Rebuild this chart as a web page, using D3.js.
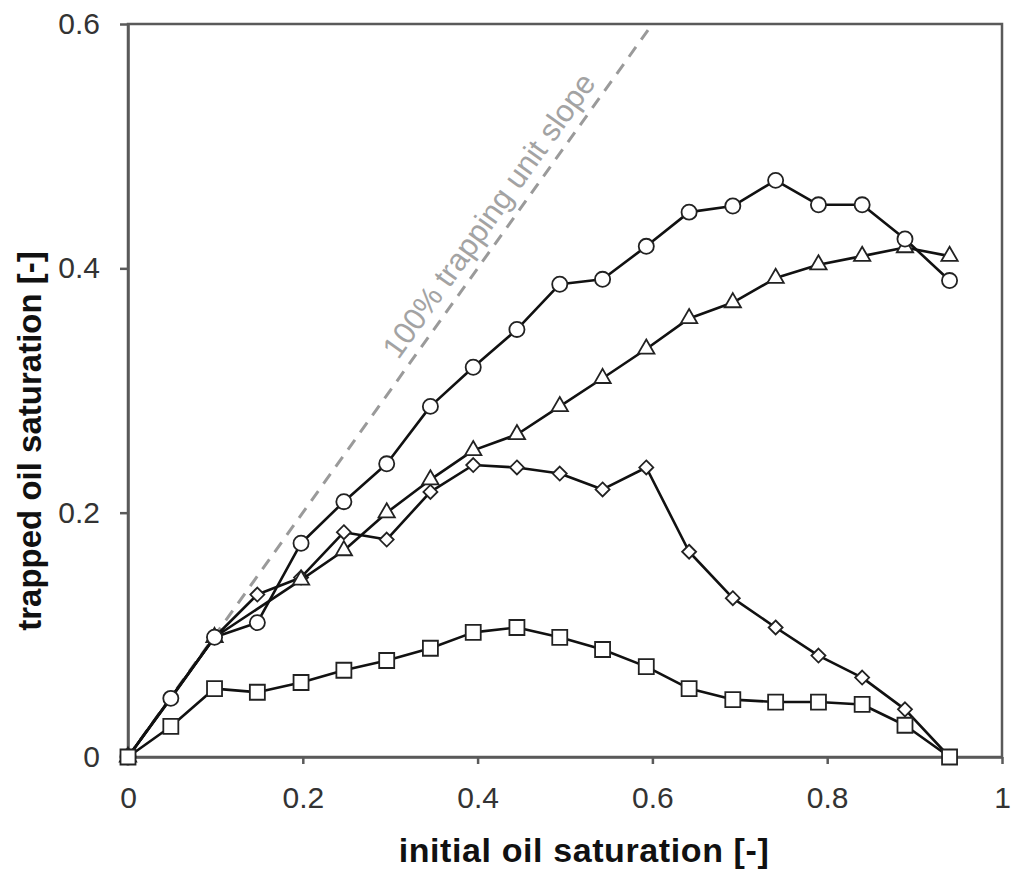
<!DOCTYPE html>
<html>
<head>
<meta charset="utf-8">
<script src="https://cdn.jsdelivr.net/npm/d3@7"></script>
<style>
  body { margin: 0; background: #fff; }
  svg text { font-family: "Liberation Sans", Arial, sans-serif; }
</style>
</head>
<body>
<svg id="chart" width="1012" height="877"></svg>
<script>
// initial oil saturation of each step [-]
const initialSat = [0, 0.049, 0.099, 0.148, 0.198, 0.247, 0.296, 0.346, 0.395, 0.445,
                    0.494, 0.543, 0.593, 0.642, 0.692, 0.741, 0.790, 0.840, 0.889, 0.94];

// trapped oil saturation per sample [-] (null = no measurement)
const trappedCircle = [0, 0.048, 0.098, 0.110, 0.175, 0.209, 0.240, 0.287, 0.319, 0.350,
                       0.387, 0.391, 0.418, 0.446, 0.451, 0.472, 0.452, 0.452, 0.424, 0.390];
const trappedTriangle = [0, null, 0.098, null, 0.145, 0.169, 0.200, 0.227, 0.251, 0.264,
                         0.287, 0.310, 0.334, 0.359, 0.372, 0.392, 0.403, 0.410, 0.417, 0.410];
const trappedDiamond = [0, null, 0.098, 0.133, 0.147, 0.184, 0.178, 0.217, 0.239, 0.237,
                        0.232, 0.219, 0.237, 0.168, 0.130, 0.106, 0.083, 0.065, 0.039, 0];
const trappedSquare = [0, 0.025, 0.056, 0.053, 0.061, 0.071, 0.079, 0.089, 0.102, 0.106,
                       0.098, 0.088, 0.074, 0.056, 0.047, 0.045, 0.045, 0.043, 0.026, 0];

const xTicks = [0, 0.2, 0.4, 0.6, 0.8, 1];
const yTicks = [0, 0.2, 0.4, 0.6];
const unitSlopeEnd = 0.595;
const annotation = "100% trapping unit slope";
const xTitle = "initial oil saturation [-]";
const yTitle = "trapped oil saturation [-]";

const svg = d3.select("#chart");
const plotLeft = 128, plotRight = 1002, plotTop = 24, plotBottom = 757;

const x = d3.scaleLinear().domain([0, 1]).range([plotLeft, plotRight]);
const y = d3.scaleLinear().domain([0, 0.6]).range([plotBottom, plotTop]);

const axisColor = "#5a5a5a";

// frame
svg.append("rect")
  .attr("x", plotLeft).attr("y", plotTop)
  .attr("width", plotRight - plotLeft).attr("height", plotBottom - plotTop)
  .attr("fill", "none").attr("stroke", axisColor).attr("stroke-width", 2.5);

// axes
const fmt = d3.format("~g");
const gx = svg.append("g").attr("transform", `translate(0,${plotBottom})`)
  .call(d3.axisBottom(x).tickValues(xTicks).tickFormat(fmt).tickSize(7).tickSizeOuter(0).tickPadding(23));
const gy = svg.append("g").attr("transform", `translate(${plotLeft},0)`)
  .call(d3.axisLeft(y).tickValues(yTicks).tickFormat(fmt).tickSize(8).tickSizeOuter(0).tickPadding(20));
[gx, gy].forEach(g => {
  g.select(".domain").attr("stroke", axisColor).attr("stroke-width", 2.5);
  g.selectAll(".tick line").attr("stroke", axisColor).attr("stroke-width", 2.5);
  g.selectAll(".tick text").attr("fill", "#333").attr("font-size", 30)
    .style("font-family", "'Liberation Sans', Arial, sans-serif");
});

// 100% trapping reference line (unit slope)
svg.append("line")
  .attr("x1", x(0)).attr("y1", y(0))
  .attr("x2", x(unitSlopeEnd)).attr("y2", y(unitSlopeEnd))
  .attr("stroke", "#9a9a9a").attr("stroke-width", 3)
  .attr("stroke-dasharray", "12 9");

const slopeAngle = Math.atan2(y(0) - y(1), x(1) - x(0)) * 180 / Math.PI;
svg.append("text")
  .attr("transform", `translate(${x(0.433)},${y(0.433)}) rotate(${-slopeAngle})`)
  .attr("x", 0).attr("y", -11)
  .attr("text-anchor", "middle")
  .attr("font-size", 31)
  .attr("fill", "#a3a3a3")
  .text(annotation);

// marker shapes
const diamondType = {
  draw(ctx, size) {
    const r = Math.sqrt(size / 2);
    ctx.moveTo(0, -r); ctx.lineTo(r, 0); ctx.lineTo(0, r); ctx.lineTo(-r, 0); ctx.closePath();
  }
};

const series = [
  { values: trappedDiamond, type: diamondType, size: 98 },
  { values: trappedTriangle, type: d3.symbolTriangle, size: 115 },
  { values: trappedCircle, type: d3.symbolCircle, size: 180 },
  { values: trappedSquare, type: d3.symbolSquare, size: 225 }
];

const line = d3.line().x(d => x(d[0])).y(d => y(d[1]));

series.forEach(s => {
  const pts = initialSat.map((v, i) => [v, s.values[i]]).filter(d => d[1] !== null);
  const g = svg.append("g");
  g.append("path")
    .attr("d", line(pts))
    .attr("fill", "none").attr("stroke", "#111").attr("stroke-width", 2.6)
    .attr("stroke-linejoin", "round");
  g.selectAll("path.marker").data(pts).join("path")
    .attr("class", "marker")
    .attr("transform", d => `translate(${x(d[0])},${y(d[1])})`)
    .attr("d", d3.symbol().type(s.type).size(s.size))
    .attr("fill", "#fff").attr("stroke", "#222").attr("stroke-width", 1.8);
});

// axis titles
svg.append("text")
  .attr("x", 584).attr("y", 862)
  .attr("text-anchor", "middle")
  .attr("font-size", 34).attr("font-weight", "bold").attr("fill", "#111")
  .attr("letter-spacing", 0.6)
  .text(xTitle);

svg.append("text")
  .attr("transform", "translate(41,441) rotate(-90)")
  .attr("text-anchor", "middle")
  .attr("font-size", 33).attr("font-weight", "bold").attr("fill", "#111")
  .text(yTitle);
</script>
</body>
</html>
